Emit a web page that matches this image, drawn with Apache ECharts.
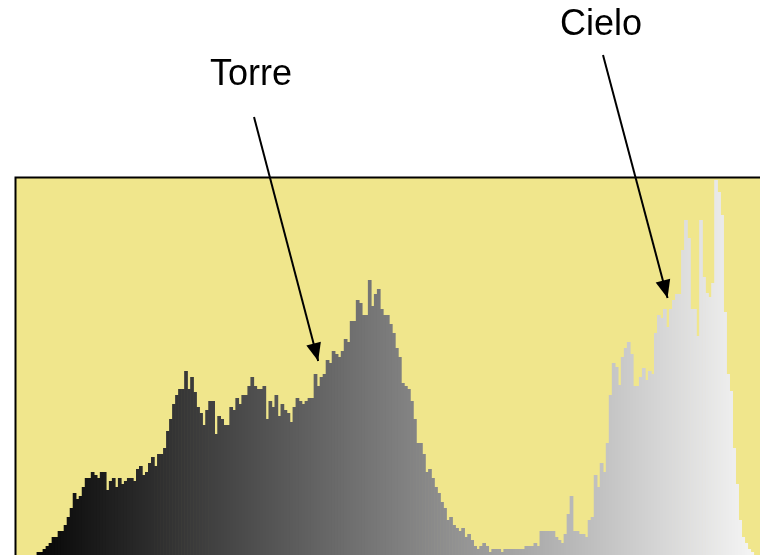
<!DOCTYPE html>
<html>
<head>
<meta charset="utf-8">
<script src="https://cdn.jsdelivr.net/npm/echarts@6/dist/echarts.min.js"></script>
<style>
  html, body { margin: 0; padding: 0; background: #ffffff; overflow: hidden; width: 760px; height: 555px; }
  #chart { width: 800px; height: 600px; }
</style>
</head>
<body>
<div id="chart"></div>
<script>
// Grey-level bins 0..255 (bin index = grey intensity)
const bins = Array.from({length: 256}, (_, i) => i);

// Histogram counts per grey level (arbitrary units)
const counts = [
  0, 0, 0, 0, 0, 0, 0, 5, 5, 8,
  11, 14, 20, 20, 26, 26, 32, 40, 49, 64,
  58, 61, 70, 79, 79, 85, 82, 79, 85, 85,
  67, 76, 79, 70, 79, 73, 76, 79, 79, 76,
  88, 91, 82, 85, 94, 100, 91, 103, 103, 109,
  126, 138, 153, 162, 168, 168, 186, 168, 180, 165,
  150, 144, 132, 147, 156, 156, 123, 141, 138, 132,
  132, 150, 147, 159, 153, 162, 162, 171, 180, 171,
  168, 168, 171, 138, 156, 150, 162, 141, 153, 147,
  144, 135, 150, 159, 156, 153, 156, 159, 159, 183,
  171, 180, 183, 197, 194, 206, 203, 200, 206, 218,
  215, 236, 236, 257, 254, 242, 242, 277, 251, 263,
  268, 248, 242, 242, 233, 224, 209, 200, 174, 171,
  168, 156, 138, 114, 114, 103, 85, 88, 79, 70,
  64, 55, 49, 37, 40, 32, 29, 26, 29, 20,
  23, 17, 11, 8, 11, 14, 11, 5, 8, 8,
  8, 5, 8, 8, 8, 8, 8, 8, 8, 11,
  11, 11, 14, 11, 26, 26, 26, 26, 26, 20,
  17, 14, 23, 43, 61, 26, 26, 23, 23, 20,
  37, 40, 82, 70, 94, 85, 114, 162, 194, 190,
  172, 200, 209, 215, 203, 171, 171, 180, 189, 177,
  186, 183, 224, 242, 239, 248, 230, 248, 257, 263,
  263, 307, 337, 319, 248, 248, 221, 337, 280, 264,
  260, 274, 377, 365, 342, 245, 183, 166, 109, 73,
  37, 20, 14, 8, 5, 0, 0, 0, 0, 0,
  0, 0, 0, 0, 0, 0
];

// Annotations: text and the (bin, count) point each arrow points at
const annotLabels = ['Torre', 'Cielo'];
const annotBins = [100, 216];
const annotValues = [196, 259];

const chart = echarts.init(document.getElementById('chart'), null, {renderer: 'canvas'});

const histData = counts.map((v, i) => [i, v]);

function renderBar(params, api) {
  const idx = api.value(0);
  const val = api.value(1);
  if (!val) return null;
  const top = api.coord([idx, val]);
  const base = api.coord([idx, 0]);
  const w = api.size([1, 0])[0];
  const g = bins[idx];
  return {
    type: 'rect',
    shape: { x: top[0] - w / 2, y: top[1], width: w + 0.7, height: base[1] - top[1] },
    style: { fill: 'rgb(' + g + ',' + g + ',' + g + ')' }
  };
}

const arrowEnd = (i) => ({
  coord: [annotBins[i], annotValues[i]],
  symbol: 'triangle',
  symbolSize: [15, 18],
  symbolOffset: [0, '50%']
});

const option = {
  animation: false,
  backgroundColor: '#ffffff',
  grid: {
    show: true,
    left: 15.5,
    top: 177.5,
    width: 771,
    height: 379.5,
    backgroundColor: '#F0E68C',
    borderColor: '#000000',
    borderWidth: 2
  },
  xAxis: {
    type: 'category',
    data: bins,
    show: false,
    boundaryGap: true
  },
  yAxis: {
    type: 'value',
    min: 0,
    max: 379.5,
    show: false,
    splitLine: { show: false }
  },
  series: [
    {
      type: 'custom',
      data: histData,
      encode: { x: 0, y: 1 },
      renderItem: renderBar,
      clip: false,
      silent: true
    },
    {
      type: 'line',
      data: [],
      silent: true,
      markLine: {
        silent: true,
        animation: false,
        symbol: ['none', 'triangle'],
        symbolSize: 15,
        lineStyle: { color: '#000000', width: 2, type: 'solid' },
        itemStyle: { color: '#000000' },
        label: { show: false },
        emphasis: { disabled: true },
        data: [
          [{ x: 254, y: 117 }, arrowEnd(0)],
          [{ x: 603, y: 55 }, arrowEnd(1)]
        ]
      }
    }
  ],
  graphic: [
    {
      type: 'text', x: 251, y: 75,
      style: { text: annotLabels[0], fontSize: 36, fontFamily: 'Liberation Sans, Arial, sans-serif',
               fill: '#000000', align: 'center', verticalAlign: 'middle' }
    },
    {
      type: 'text', x: 601, y: 25,
      style: { text: annotLabels[1], fontSize: 36, fontFamily: 'Liberation Sans, Arial, sans-serif',
               fill: '#000000', align: 'center', verticalAlign: 'middle' }
    }
  ]
};

chart.setOption(option);
</script>
</body>
</html>
